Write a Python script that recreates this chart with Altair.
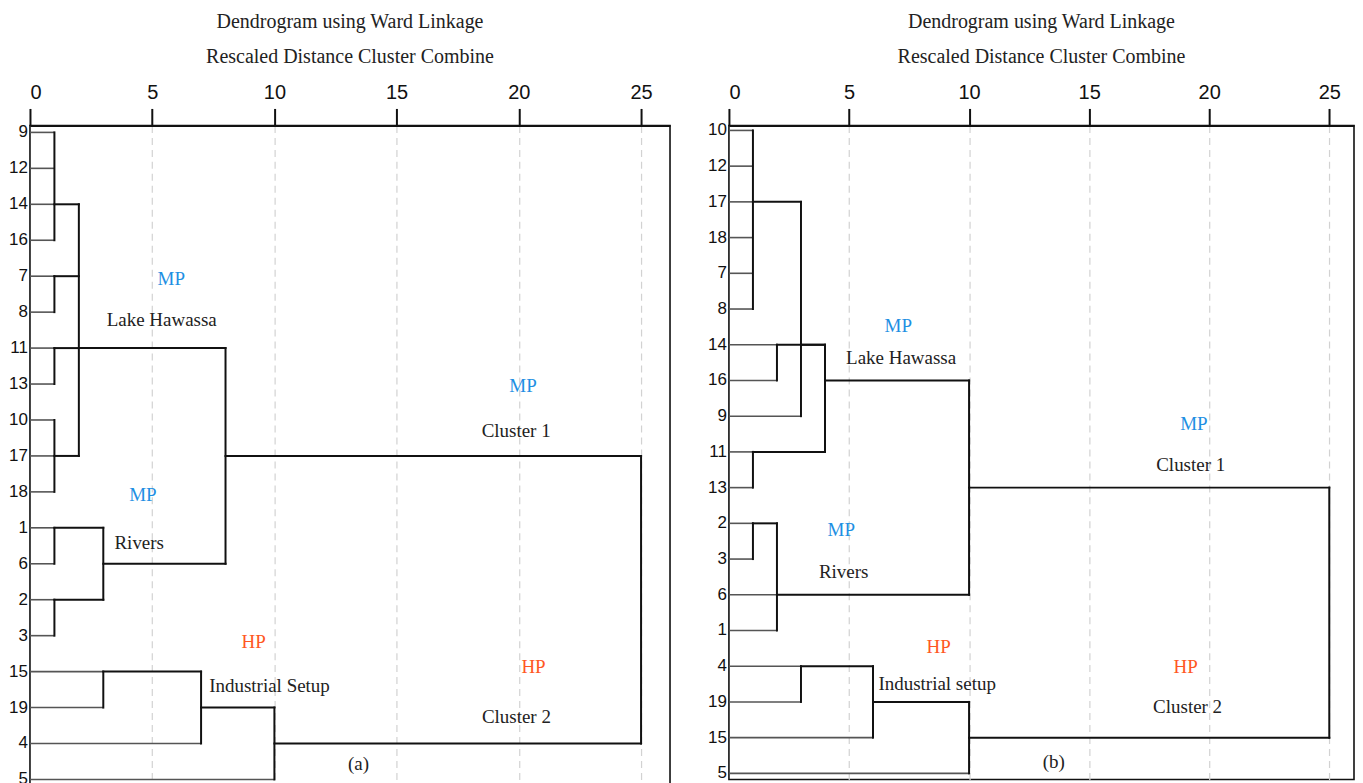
import altair as alt
import pandas as pd

TITLE = "Dendrogram using Ward Linkage"
SUBTITLE = "Rescaled Distance Cluster Combine"
TICKS = [0, 5, 10, 15, 20, 25]

# ---------------- panel (a) ----------------
leaves_a = ["9", "12", "14", "16", "7", "8", "11", "13", "10", "17", "18",
            "1", "6", "2", "3", "15", "19", "4", "5"]
merge_names_a = ["A1", "A2", "A3", "A4", "A5", "A6", "A7", "A8", "A9",
                 "A10", "A11", "A12", "A13"]
merge_children_a = [["9", "12", "14", "16"], ["7", "8"], ["11", "13"],
                    ["10", "17", "18"], ["A1", "A2", "A3", "A4"],
                    ["1", "6"], ["2", "3"], ["A6", "A7"], ["A5", "A8"],
                    ["15", "19"], ["A10", "4"], ["A11", "5"], ["A9", "A12"]]
merge_heights_a = [1, 1, 1, 1, 2, 1, 1, 3, 8, 3, 7, 10, 25]
merge_rows_a = ["14", "7", "11", "17", "11", "1", "2", "6", "17",
                "15", "19", "4", None]

ann_a_text = ["MP", "Lake Hawassa", "MP", "Cluster 1", "MP", "Rivers",
              "HP", "Industrial Setup", "HP", "Cluster 2", "(a)"]
ann_a_x = [5.78, 5.39, 20.17, 19.89, 4.62, 4.47, 9.15, 9.8, 20.6, 19.9, 13.44]
ann_a_y = [4.08, 5.22, 7.06, 8.31, 10.1, 11.42, 14.19, 15.39, 14.86, 16.25, 17.56]

# ---------------- panel (b) ----------------
leaves_b = ["10", "12", "17", "18", "7", "8", "14", "16", "9", "11", "13",
            "2", "3", "6", "1", "4", "19", "15", "5"]
merge_names_b = ["B1", "B2", "B3", "B4", "B5", "B6", "B7", "B8", "B9",
                 "B10", "B11", "B12"]
merge_children_b = [["10", "12", "17", "18", "7", "8"], ["B1", "9"],
                    ["14", "16"], ["11", "13"], ["B3", "B2", "B4"],
                    ["2", "3"], ["B6", "6", "1"], ["B5", "B7"],
                    ["4", "19"], ["B9", "15"], ["B10", "5"], ["B8", "B11"]]
merge_heights_b = [1, 3, 2, 1, 4, 1, 2, 10, 3, 6, 10, 25]
merge_rows_b = ["17", "14", "14", "11", "16", "2", "6", "13",
                "4", "19", "15", None]

ann_b_text = ["MP", "Lake Hawassa", "MP", "Cluster 1", "MP", "Rivers",
              "HP", "Industrial setup", "HP", "Cluster 2", "(b)"]
ann_b_x = [7.05, 7.17, 19.36, 19.23, 4.68, 4.78, 8.73, 8.67, 19.02, 19.1, 13.53]
ann_b_y = [5.47, 6.37, 8.21, 9.36, 11.2, 12.37, 14.47, 15.5, 15.03, 16.15, 17.68]

SERIF = "Liberation Serif"
SANS = "Liberation Sans"


def build_segments(leaves, names, children, heights, rows):
    row_idx = {lab: i for i, lab in enumerate(leaves)}
    node = {lab: (i, 0.0) for i, lab in enumerate(leaves)}
    segs = []
    for name, ch, h, r in zip(names, children, heights, rows):
        ys = []
        for c in ch:
            cy, cx = node[c]
            kind = "leaf" if c in row_idx else "link"
            segs.append(dict(x=cx, x2=h, y=cy, y2=cy, kind=kind))
            ys.append(cy)
        segs.append(dict(x=h, x2=h, y=min(ys), y2=max(ys), kind="link"))
        node[name] = (row_idx[r] if r is not None else None, h)
    return pd.DataFrame(segs)


def panel(leaves, names, children, heights, rows, ann_text, ann_x, ann_y,
          xmax, ymin, ymax, width, height):
    segs = build_segments(leaves, names, children, heights, rows)
    xs = alt.Scale(domain=[0, xmax], nice=False, zero=False)
    ys = alt.Scale(domain=[ymin, ymax], nice=False, zero=False, reverse=True)
    xaxis = alt.Axis(orient="top", values=TICKS, title=None, grid=True,
                     gridDash=[7, 5], gridColor="#d2d2d2", gridWidth=1.2,
                     gridOpacity=alt.ExprRef("datum.value == 0 ? 0 : 1"),
                     tickSize=17, tickWidth=2, tickColor="#111",
                     domainColor="#111", domainWidth=2,
                     labelFont=SANS, labelFontSize=20, labelColor="#111",
                     labelPadding=6)

    def X(field):
        return alt.X(field, scale=xs, axis=xaxis)

    def Y(field):
        return alt.Y(field, scale=ys, axis=None)

    leaf_lines = alt.Chart(segs[segs.kind == "leaf"]).mark_rule(
        color="#555", strokeWidth=1.6).encode(
        x=X("x:Q"), x2="x2:Q", y=Y("y:Q"), y2="y2:Q")
    link_lines = alt.Chart(segs[segs.kind == "link"]).mark_rule(
        color="#111", strokeWidth=2, strokeCap="square").encode(
        x=X("x:Q"), x2="x2:Q", y=Y("y:Q"), y2="y2:Q")
    leaf_df = pd.DataFrame({"leaf": leaves, "row": list(range(len(leaves))),
                            "zero": [0.0] * len(leaves)})
    leaf_labels = alt.Chart(leaf_df).mark_text(
        font=SANS, fontSize=17, align="right", baseline="middle", dx=-2,
        color="#111").encode(x=X("zero:Q"), y=Y("row:Q"), text="leaf:N")
    ann = pd.DataFrame({"label": ann_text, "x": ann_x, "y": ann_y})
    ann["tone"] = ann["label"].map(lambda t: t if t in ("MP", "HP") else "plain")
    texts = alt.Chart(ann).mark_text(font=SERIF, fontSize=19, baseline="middle",
                                     align="center").encode(
        x=X("x:Q"), y=Y("y:Q"), text="label:N",
        color=alt.Color("tone:N", scale=alt.Scale(domain=["MP", "HP", "plain"],
                                                  range=["#1E8FE3", "#FF5722", "#222222"]),
                        legend=None))
    return alt.layer(leaf_lines, link_lines, leaf_labels, texts).properties(
        width=width, height=height,
        view=alt.ViewBackground(stroke="#111", strokeWidth=1.6),
        title=alt.TitleParams(TITLE, subtitle=SUBTITLE, font=SERIF, fontSize=20,
                              fontWeight="normal", color="#222",
                              subtitleFont=SERIF, subtitleFontSize=20,
                              subtitleColor="#222", subtitlePadding=15,
                              anchor="middle", offset=16))


left = panel(leaves_a, merge_names_a, merge_children_a, merge_heights_a, merge_rows_a,
             ann_a_text, ann_a_x, ann_a_y,
             xmax=641 / 24.48, ymin=-0.194, ymax=19.0, width=641, height=691)
right = panel(leaves_b, merge_names_b, merge_children_b, merge_heights_b, merge_rows_b,
              ann_b_text, ann_b_x, ann_b_y,
              xmax=626 / 24.05, ymin=-0.14, ymax=18.17, width=626, height=655)

chart = alt.hconcat(left, right, spacing=59, bounds="flush").properties(
    padding={"left": 0, "top": 2, "right": 0, "bottom": 0}
).configure_view(stroke="#111", strokeWidth=1.6).configure(background="white")

chart.save("out.html", embed_options={"renderer": "svg", "actions": False})
